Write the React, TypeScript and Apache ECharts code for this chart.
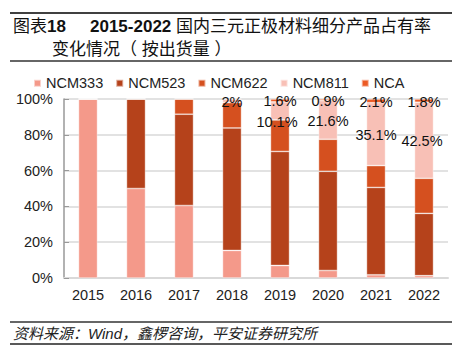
import React, { useEffect, useRef } from "react";
import * as echarts from "echarts";

const years = ["2015", "2016", "2017", "2018", "2019", "2020", "2021", "2022"];
const ncm333 = [100, 50, 40.5, 15.4, 7.0, 4.2, 1.8, 1.3];
const ncm523 = [0, 50, 51.0, 68.4, 63.7, 55.4, 48.8, 34.8];
const ncm622 = [0, 0, 8.5, 14.2, 17.6, 17.9, 12.2, 19.6];
const ncm811 = [0, 0, 0, 2, 10.1, 21.6, 35.1, 42.5];
const nca = [0, 0, 0, 0, 1.6, 0.9, 2.1, 1.8];
const seriesNames = ["NCM333", "NCM523", "NCM622", "NCM811", "NCA"];
const colors = ["#F4998A", "#B5421B", "#D5501F", "#F8C0B6", "#EC5A24"];

const FONT = "Liberation Sans, Arial, Noto Sans CJK SC, sans-serif";

export default function App() {
  const ref = useRef<HTMLDivElement>(null);
  useEffect(() => {
    if (!ref.current) return;
    const chart = echarts.init(ref.current, undefined, { renderer: "svg" });
    const lbl = (v: number) => (v > 0 ? `${v}%` : "");
    const mkSeries = (name: string, data: number[], color: string, withLabel: boolean, offsets?: Record<number, number[]>) => ({
      name,
      type: "bar",
      stack: "total",
      barWidth: 19,
      itemStyle: { color, borderColor: "rgba(255,255,255,0.55)", borderWidth: 0.7 },
      data: data.map((v, i) =>
        offsets && offsets[i] ? { value: v, label: { offset: offsets[i] } } : v
      ),
      label: withLabel
        ? {
            show: true,
            position: "inside",
            offset: [0, 1],
            color: "#111",
            fontSize: 14.5,
            fontFamily: FONT,
            formatter: (p: any) => lbl(p.value),
          }
        : { show: false },
    });
    const rich = {
      b: { font: `bold 17px ${FONT}`, fill: "#111" },
      n: { font: `17px ${FONT}`, fill: "#111" },
    };
    const option: any = {
      animation: false,
      textStyle: { fontFamily: FONT },
      color: colors,
      legend: {
        data: seriesNames,
        left: 28,
        top: 71,
        itemWidth: 7,
        itemHeight: 7,
        itemGap: 12,
        icon: "rect",
        textStyle: { fontSize: 14.5, color: "#222", fontFamily: FONT },
      },
      grid: { left: 64, right: 9, top: 99, bottom: 72 },
      xAxis: {
        type: "category",
        data: years,
        axisLine: { show: true, lineStyle: { color: "#d9d9d9", width: 2 } },
        axisTick: { show: false },
        axisLabel: { fontSize: 14.5, color: "#222", margin: 10, fontFamily: FONT },
      },
      yAxis: {
        type: "value",
        min: 0,
        max: 100,
        interval: 20,
        axisLine: { show: true, lineStyle: { color: "#999", width: 1.5 } },
        axisTick: { show: true, inside: true, length: 5, lineStyle: { color: "#999" } },
        splitLine: { lineStyle: { color: "#d9d9d9", width: 1.5 } },
        axisLabel: { formatter: "{value}%", fontSize: 14.5, color: "#222", margin: 11, fontFamily: FONT },
      },
      series: [
        mkSeries("NCM333", ncm333, colors[0], false),
        mkSeries("NCM523", ncm523, colors[1], false),
        mkSeries("NCM622", ncm622, colors[2], false),
        mkSeries("NCM811", ncm811, colors[3], true, { 4: [-3, 11], 7: [-2, 1] }),
        mkSeries("NCA", nca, colors[4], true),
      ],
      graphic: [
        { type: "line", shape: { x1: 10, y1: 13, x2: 452, y2: 13 }, style: { stroke: "#404040", lineWidth: 2 } },
        { type: "line", shape: { x1: 10, y1: 61, x2: 452, y2: 61 }, style: { stroke: "#333", lineWidth: 1.5 } },
        { type: "line", shape: { x1: 10, y1: 322, x2: 452, y2: 322 }, style: { stroke: "#333", lineWidth: 1.5 } },
        { type: "line", shape: { x1: 10, y1: 344, x2: 452, y2: 344 }, style: { stroke: "#595959", lineWidth: 2 } },
        {
          type: "text",
          left: 13,
          top: 18,
          style: { text: "{n|图表}{b|18}", rich },
        },
        {
          type: "text",
          left: 90,
          top: 18,
          style: { text: "{b|2015-2022 }{n|国内三元正极材料细分产品占有率}", rich },
        },
        {
          type: "text",
          left: 52,
          top: 41,
          style: { text: "{n|变化情况（ 按出货量 ）}", rich },
        },
        {
          type: "text",
          left: 13,
          top: 326,
          style: {
            text: "资料来源：Wind，鑫椤咨询，平安证券研究所",
            font: `italic 15px ${FONT}`,
            fill: "#222",
          },
        },
      ],
    };
    chart.setOption(option);
    return () => chart.dispose();
  }, []);
  return (
    <div
      ref={ref}
      style={{ position: "fixed", left: 0, top: 0, width: 457, height: 350, background: "#fff" }}
    />
  );
}
